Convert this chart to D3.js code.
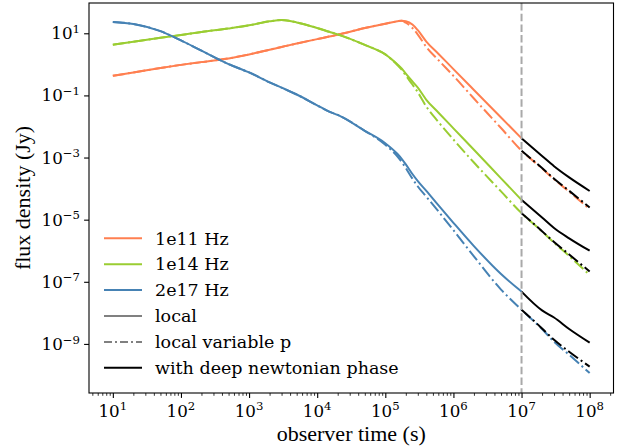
<!DOCTYPE html>
<html><head><meta charset="utf-8">
<script src="https://cdn.jsdelivr.net/npm/d3@7/dist/d3.min.js"></script>
<style>html,body{margin:0;padding:0;background:#fff}</style>
</head><body>
<svg id="chart" width="624" height="448"></svg>
<script>
// ---------------- data ----------------
const times = [10,20,50,100,200,500,1e3,2e3,3e3,5e3,1e4,1.5e4,2e4,5e4,1e5,1.5e5,1.75e5,2e5,2.5e5,3e5,4e5,6e5,1e6,2e6,5e6,1e7];
const timesVarP = [10,20,50,100,200,500,1e3,2e3,3e3,5e3,1e4,1.5e4,2e4,5e4,1e5,1.5e5,1.75e5,2e5,2.5e5,3e5,4e5,6e5,1e6,2e6,5e6,1e7,2e7,3e7,5e7,1e8];
const timesDeep = [1e7,2e7,3e7,5e7,1e8];

const orangeLocal = [0.427,0.547,0.762,0.962,1.18,1.55,2.09,2.96,3.63,4.68,6.49,7.83,8.97,14.7,20.4,24.3,25.4,24.5,19.1,12.6,5.42,2.20,0.703,0.150,0.0195,0.00417];
const orangeVarP = [0.427,0.547,0.762,0.962,1.18,1.55,2.09,2.96,3.63,4.68,6.49,7.83,8.97,14.7,20.4,24.3,25.4,21.9,14.8,9.12,3.63,1.38,0.427,0.0794,0.00891,0.00166,4.47e-4,2.00e-4,7.94e-5,2.19e-5];
const orangeDeepLocal = [4.17e-3,1.12e-3,5.25e-4,2.29e-4,8.39e-5];
const orangeDeepVarP = [1.66e-3,4.57e-4,2.09e-4,8.51e-5,2.45e-5];

const greenLocal = [4.30,5.37,7.16,8.81,11.0,14.3,18.0,24.2,26.8,22.4,14.8,11.2,9.23,4.22,2.09,1.00,0.724,0.501,0.282,0.178,0.0724,0.0282,8.71e-3,1.78e-3,2.14e-4,4.32e-5];
const greenVarP = [4.30,5.37,7.16,8.81,11.0,14.3,18.0,24.2,26.8,22.4,14.8,11.2,9.23,4.22,2.09,0.955,0.661,0.437,0.224,0.126,0.0437,0.0141,3.80e-3,6.92e-4,8.13e-5,1.62e-5,4.17e-6,1.82e-6,6.76e-7,1.66e-7];
const greenDeepLocal = [4.32e-5,1.17e-5,5.37e-6,2.51e-6,1.00e-6];
const greenDeepVarP = [1.62e-5,4.27e-6,1.91e-6,7.59e-7,2.14e-7];

const blueLocal = [23.1,20.0,11.7,5.89,2.75,1.02,0.550,0.263,0.178,0.107,0.0479,0.0300,0.0235,7.24e-3,2.88e-3,1.32e-3,8.91e-4,6.03e-4,2.95e-4,1.74e-4,8.51e-5,2.95e-5,7.94e-6,1.41e-6,1.78e-7,4.83e-8];
const blueVarP = [23.1,20.0,11.7,5.89,2.75,1.02,0.550,0.263,0.178,0.107,0.0479,0.0300,0.0235,7.24e-3,2.57e-3,1.10e-3,7.08e-4,4.57e-4,2.09e-4,1.17e-4,5.50e-5,1.86e-5,4.57e-6,6.61e-7,5.62e-8,1.26e-8,3.02e-9,1.17e-9,4.47e-10,1.15e-10];
const blueDeepLocal = [4.83e-8,1.20e-8,7.08e-9,3.02e-9,1.10e-9];
const blueDeepVarP = [1.26e-8,3.16e-9,1.35e-9,5.62e-10,1.86e-10];

const bandLabels = ["1e11 Hz","1e14 Hz","2e17 Hz"];
const styleLabels = ["local","local variable p","with deep newtonian phase"];
const xTickExps = [1,2,3,4,5,6,7,8];
const yTickExps = [1,-1,-3,-5,-7,-9];
const markerTime = 1e7;
const xLabel = "observer time (s)";
const yLabel = "flux density (Jy)";

// ---------------- layout / style ----------------
const bandColors = ["#FF7F50","#9ACD32","#4682B4"];
const L = 89, R = 613.5, T = 3, B = 393;
const LW = 2.0;
const DASHDOT = "12,3.4,2,3.4";

const svg = d3.select("#chart");
const x = d3.scaleLog().domain([Math.pow(10,0.65), Math.pow(10,8.35)]).range([L, R]);
const y = d3.scaleLog().domain([Math.pow(10,-10.58), Math.pow(10,1.975)]).range([B, T]);

const plot = svg.append("g");
plot.append("clipPath").attr("id","clip").append("rect")
  .attr("x",L).attr("y",T).attr("width",R-L).attr("height",B-T);
const lines = plot.append("g").attr("clip-path","url(#clip)");

const lineGen = d3.line().x(d=>x(d[0])).y(d=>y(d[1])).curve(d3.curveMonotoneX);
const zip = (t, v) => t.map((ti,i)=>[ti, v[i]]);

const bands = [
  {local: orangeLocal, varp: orangeVarP, dl: orangeDeepLocal, dv: orangeDeepVarP},
  {local: greenLocal, varp: greenVarP, dl: greenDeepLocal, dv: greenDeepVarP},
  {local: blueLocal, varp: blueVarP, dl: blueDeepLocal, dv: blueDeepVarP}
];

bands.forEach((b,i)=>{
  lines.append("path").attr("d", lineGen(zip(times,b.local)))
    .attr("fill","none").attr("stroke",bandColors[i]).attr("stroke-width",LW);
  lines.append("path").attr("d", lineGen(zip(timesVarP,b.varp)))
    .attr("fill","none").attr("stroke",bandColors[i]).attr("stroke-width",LW)
    .attr("stroke-dasharray",DASHDOT);
});
bands.forEach((b,i)=>{
  lines.append("path").attr("d", lineGen(zip(timesDeep,b.dl)))
    .attr("fill","none").attr("stroke","#000").attr("stroke-width",LW);
  lines.append("path").attr("d", lineGen(zip(timesDeep,b.dv)))
    .attr("fill","none").attr("stroke","#000").attr("stroke-width",LW)
    .attr("stroke-dasharray",DASHDOT);
});

// vertical marker
lines.append("line").attr("x1",x(markerTime)).attr("x2",x(markerTime))
  .attr("y1",T).attr("y2",B).attr("stroke","#A9A9A9").attr("stroke-width",2)
  .attr("stroke-dasharray","7.5,3.2");

// frame
svg.append("rect").attr("x",L).attr("y",T).attr("width",R-L).attr("height",B-T)
  .attr("fill","none").attr("stroke","#000").attr("stroke-width",1.1);

// x axis ticks
const majorX = xTickExps.map(e=>Math.pow(10,e));
const minorX = [];
for (let e=0;e<=8;e++) for (let m=2;m<=9;m++){ const v=m*Math.pow(10,e); if (x(v)>=L && x(v)<=R) minorX.push(v); }
const xAxisMajor = d3.axisBottom(x).tickValues(majorX).tickSize(4.9).tickFormat("");
const xAxisMinor = d3.axisBottom(x).tickValues(minorX).tickSize(2.8).tickFormat("");
const gxm = svg.append("g").attr("transform",`translate(0,${B})`).call(xAxisMinor);
gxm.select(".domain").remove();
gxm.selectAll(".tick line").attr("stroke","#000").attr("stroke-width",0.8);
const gx = svg.append("g").attr("transform",`translate(0,${B})`).call(xAxisMajor);
gx.select(".domain").remove();
gx.selectAll(".tick line").attr("stroke","#000").attr("stroke-width",1.1);

const TICKFONT = "'DejaVu Serif', serif";
const TFS = 16.7, SFS = 11.7, LFS = 17.5;
xTickExps.forEach(e=>{
  const t = svg.append("text").attr("x", x(Math.pow(10,e))).attr("y", 416.5)
    .attr("text-anchor","middle").attr("font-family",TICKFONT).attr("font-size",TFS).attr("fill","#000");
  t.append("tspan").text("10");
  t.append("tspan").attr("font-size",SFS).attr("dy",-6.3).text(String(e));
});

// y axis
const yAxis = d3.axisLeft(y).tickValues(yTickExps.map(e=>Math.pow(10,e))).tickSize(4.9).tickFormat("");
const gy = svg.append("g").attr("transform",`translate(${L},0)`).call(yAxis);
gy.select(".domain").remove();
gy.selectAll(".tick line").attr("stroke","#000").attr("stroke-width",1.1);
yTickExps.forEach(e=>{
  const t = svg.append("text").attr("x", 80).attr("y", y(Math.pow(10,e)) + 6)
    .attr("text-anchor","end").attr("font-family",TICKFONT).attr("font-size",TFS).attr("fill","#000");
  t.append("tspan").text("10");
  t.append("tspan").attr("font-size",SFS).attr("dy",-6.3).text(String(e).replace("-","\u2212"));
});

// axis labels
const LABELFONT = "'Liberation Serif', 'Times New Roman', serif";
svg.append("text").attr("x",(L+R)/2).attr("y",441).attr("text-anchor","middle")
  .attr("font-family",LABELFONT).attr("font-size",22).attr("fill","#000").text(xLabel);
svg.append("text").attr("transform",`translate(30,${(T+B)/2}) rotate(-90)`).attr("text-anchor","middle")
  .attr("font-family",LABELFONT).attr("font-size",22).attr("fill","#000").text(yLabel);

// legend
const legendItems = [
  {label: bandLabels[0], color: bandColors[0], dash: null},
  {label: bandLabels[1], color: bandColors[1], dash: null},
  {label: bandLabels[2], color: bandColors[2], dash: null},
  {label: styleLabels[0], color: "#808080", dash: null},
  {label: styleLabels[1], color: "#808080", dash: "8,3,2,3"},
  {label: styleLabels[2], color: "#000", dash: null}
];
const lg = svg.append("g");
legendItems.forEach((d,i)=>{
  const cy = 238.3 + i*25.9;
  const ln = lg.append("line").attr("x1",104).attr("x2",142).attr("y1",cy).attr("y2",cy)
    .attr("stroke",d.color).attr("stroke-width",LW);
  if (d.dash) ln.attr("stroke-dasharray",d.dash);
  lg.append("text").attr("x",155).attr("y",cy+6.2).attr("font-family",TICKFONT)
    .attr("font-size",LFS).attr("fill","#000").text(d.label);
});
</script>
</body></html>
